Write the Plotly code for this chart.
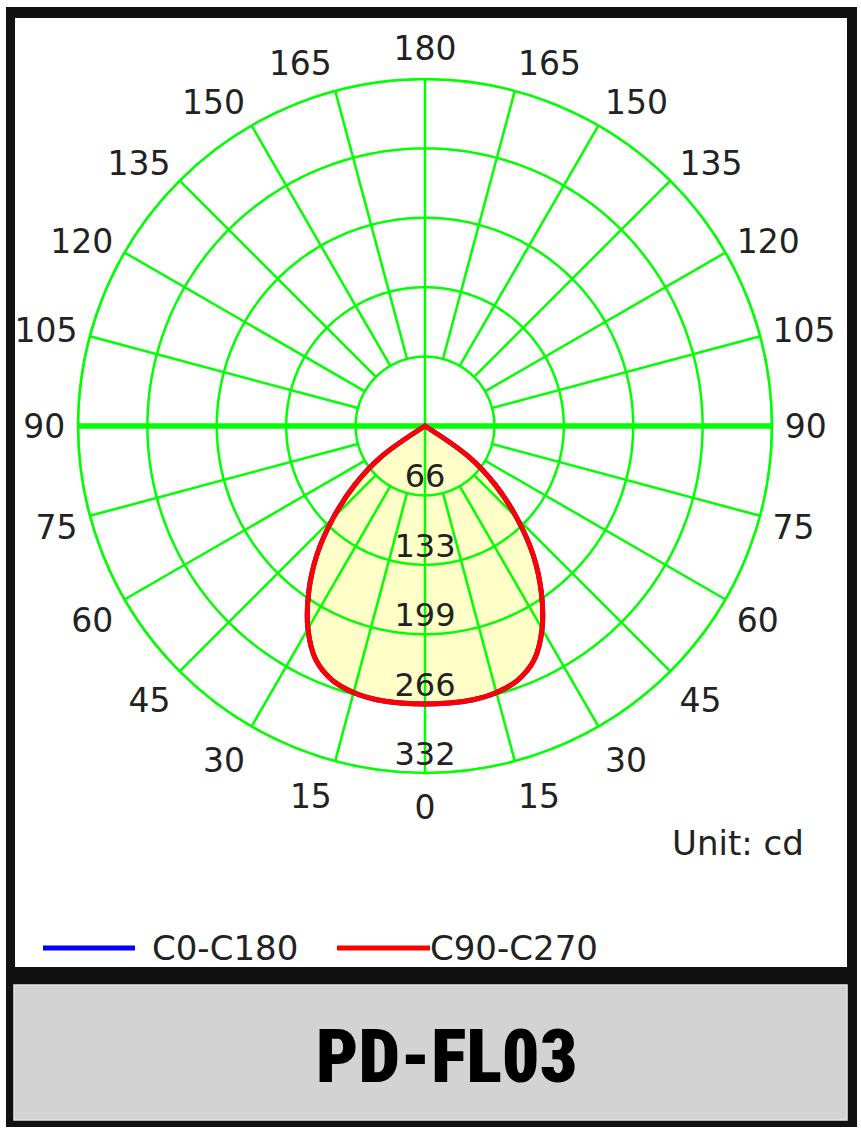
import numpy as np
import plotly.graph_objects as go

# ---------------- data ----------------
# gamma angles (deg from nadir) and luminous intensity (cd), one half of the symmetric curve
gamma_deg = [0, 5, 10, 15, 20, 25, 30, 35, 40, 45, 50, 55, 60, 65, 70, 75, 80, 85, 90]
c90_c270 = [266, 266, 266, 264, 259, 247, 224, 194, 161, 124, 88, 50, 0, 0, 0, 0, 0, 0, 0]
c0_c180 = [266, 266, 266, 264, 259, 247, 224, 194, 161, 124, 88, 50, 0, 0, 0, 0, 0, 0, 0]

radial_max = 332
radial_tick_vals = [66.4, 132.8, 199.2, 265.6, 332]
radial_tick_text = ["66", "133", "199", "266", "332"]

angle_tick_vals = list(range(0, 360, 15))
angle_tick_text = [str(a if a <= 180 else 360 - a) for a in angle_tick_vals]

series_names = ["C0-C180", "C90-C270"]
series_colors = ["#0000ff", "#ff0000"]
unit_text = "Unit: cd"
title_text = "PD-FL03"

# ---------------- figure ----------------
W, H = 861, 1135
GREEN = "#00ff00"
TXT = "#222222"
FONT = "DejaVu Sans, Verdana, sans-serif"


def px_x(x):
    return x / W


def px_y(y):
    return 1 - y / H


def full_curve(vals):
    # mirror the half curve: -90 .. 0 .. 90
    th = [-g for g in gamma_deg[::-1]] + gamma_deg[1:]
    rr = list(vals[::-1]) + list(vals[1:])
    return th, rr


fig = go.Figure()

th90, r90 = full_curve(c90_c270)
th0, r0 = full_curve(c0_c180)

# fill (under grid)
fig.add_trace(go.Scatterpolar(
    theta=th90, r=r90, mode="lines", fill="toself",
    fillcolor="#ffffc8", line=dict(color="rgba(0,0,0,0)", width=0, shape="spline"),
    hoverinfo="skip", showlegend=False))

# grid circles
circ_th = list(np.linspace(0, 360, 361))
for rv in radial_tick_vals:
    fig.add_trace(go.Scatterpolar(
        theta=circ_th, r=[rv] * len(circ_th), mode="lines", cliponaxis=False,
        line=dict(color=GREEN, width=2.5), hoverinfo="skip", showlegend=False))

# spokes
sp_th, sp_r = [], []
for a in angle_tick_vals:
    if a in (0, 90, 180, 270):
        continue
    sp_th += [a, a, None]
    sp_r += [radial_tick_vals[0], radial_max, None]
fig.add_trace(go.Scatterpolar(
    theta=sp_th, r=sp_r, mode="lines", cliponaxis=False,
    line=dict(color=GREEN, width=2.5), hoverinfo="skip", showlegend=False))
# vertical axis through centre
fig.add_trace(go.Scatterpolar(
    theta=[0, 0, 180], r=[radial_max, 0, radial_max], mode="lines", cliponaxis=False,
    line=dict(color=GREEN, width=2.5), hoverinfo="skip", showlegend=False))
# horizontal axis through centre (thick)
fig.add_trace(go.Scatterpolar(
    theta=[90, 90, 270], r=[radial_max, 0, radial_max], mode="lines", cliponaxis=False,
    line=dict(color=GREEN, width=5.5), hoverinfo="skip", showlegend=False))

# curves
fig.add_trace(go.Scatterpolar(
    theta=th0, r=r0, mode="lines", name=series_names[0], cliponaxis=False,
    line=dict(color=series_colors[0], width=5, shape="spline"), showlegend=False))
fig.add_trace(go.Scatterpolar(
    theta=th90, r=r90, mode="lines", name=series_names[1], cliponaxis=False,
    line=dict(color=series_colors[1], width=5, shape="spline"), showlegend=False))

# radial labels
fig.add_trace(go.Scatterpolar(
    theta=[0] * len(radial_tick_vals), r=radial_tick_vals, mode="text",
    text=radial_tick_text, textposition="top center",
    textfont=dict(family=FONT, size=32, color=TXT),
    hoverinfo="skip", showlegend=False, cliponaxis=False))

fig.update_layout(
    width=W, height=H,
    margin=dict(l=0, r=0, t=0, b=0),
    paper_bgcolor="white",
    plot_bgcolor="white",
    showlegend=False,
    polar=dict(
        domain=dict(x=[px_x(78), px_x(772)], y=[px_y(773), px_y(79)]),
        bgcolor="rgba(0,0,0,0)",
        radialaxis=dict(range=[0, radial_max], showgrid=False, showline=False,
                        showticklabels=False, ticks=""),
        angularaxis=dict(rotation=270, direction="clockwise",
                         tickmode="array", tickvals=angle_tick_vals, ticktext=angle_tick_text,
                         showgrid=False, showline=True, linecolor=GREEN, linewidth=2.5,
                         ticks="outside", ticklen=5, tickcolor="rgba(0,0,0,0)",
                         tickfont=dict(family=FONT, size=33, color=TXT)),
    ),
)

shapes = [
    # outer black frame
    dict(type="rect", xref="paper", yref="paper", x0=px_x(6), x1=px_x(857),
         y0=px_y(1127), y1=px_y(7), fillcolor="#111111", line=dict(width=0), layer="below"),
    # white chart panel
    dict(type="rect", xref="paper", yref="paper", x0=px_x(15), x1=px_x(847),
         y0=px_y(967), y1=px_y(18), fillcolor="white", line=dict(width=0), layer="below"),
    # gray title panel
    dict(type="rect", xref="paper", yref="paper", x0=px_x(14), x1=px_x(847),
         y0=px_y(1120), y1=px_y(985), fillcolor="#d3d3d3",
         line=dict(width=1.5, color="#e6e6e6"), layer="below"),
    # legend samples
    dict(type="line", xref="paper", yref="paper", x0=px_x(43), x1=px_x(135),
         y0=px_y(948), y1=px_y(948), line=dict(color=series_colors[0], width=5)),
    dict(type="line", xref="paper", yref="paper", x0=px_x(337), x1=px_x(430),
         y0=px_y(948), y1=px_y(948), line=dict(color=series_colors[1], width=5)),
]
fig.update_layout(shapes=shapes)

annotations = [
    dict(text=series_names[0], xref="paper", yref="paper", x=px_x(150), y=px_y(948),
         xanchor="left", yanchor="middle", showarrow=False,
         font=dict(family=FONT, size=34, color=TXT)),
    dict(text=series_names[1], xref="paper", yref="paper", x=px_x(428), y=px_y(948),
         xanchor="left", yanchor="middle", showarrow=False,
         font=dict(family=FONT, size=34, color=TXT)),
    dict(text=unit_text, xref="paper", yref="paper", x=px_x(670), y=px_y(843),
         xanchor="left", yanchor="middle", showarrow=False,
         font=dict(family=FONT, size=34, color=TXT)),
    dict(text=title_text, xref="paper", yref="paper", x=px_x(447), y=px_y(1056),
         xanchor="center", yanchor="middle", showarrow=False,
         font=dict(family="Roboto Condensed, Liberation Sans Narrow, Roboto, DejaVu Sans Condensed, sans-serif",
                   size=74, color="black", weight=900)),
]
fig.update_layout(annotations=annotations)

fig.write_html("out.html", config={"displayModeBar": False},
               post_script="document.body.style.margin='0px';document.body.style.padding='0px';")
